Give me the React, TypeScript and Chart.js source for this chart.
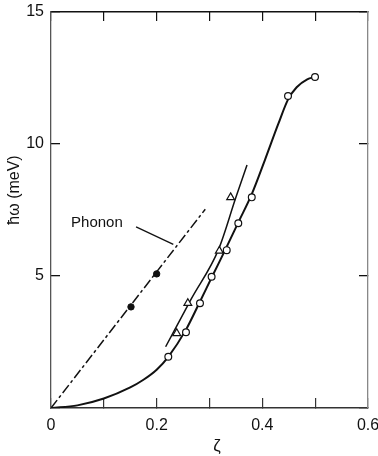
import React, { useEffect, useRef } from 'react';
import { Chart, registerables } from 'chart.js';

Chart.register(...registerables);

// Solid curve through open circles
const curveX = [0, 0.05, 0.1, 0.15, 0.175, 0.2, 0.222, 0.255, 0.28, 0.305, 0.33, 0.355, 0.38, 0.405, 0.43, 0.449, 0.465, 0.485, 0.4997];
const curveY = [0, 0.1, 0.36, 0.78, 1.07, 1.45, 1.94, 2.95, 3.95, 4.98, 6.0, 7.05, 8.1, 9.4, 10.75, 11.7, 12.15, 12.45, 12.54];

// Solid line through triangles
const triLineX = [0.217, 0.266, 0.317, 0.35, 0.371];
const triLineY = [2.32, 4.15, 6.0, 7.98, 9.2];

// Dash-dot phonon line
const phononX = [0, 0.292];
const phononY = [0, 7.53];

// Markers
const openX = [0.222, 0.2555, 0.282, 0.304, 0.3326, 0.3545, 0.38, 0.4486, 0.4997];
const openY = [1.94, 2.87, 3.97, 4.97, 5.98, 7.0, 7.98, 11.82, 12.54];
const triX = [0.238, 0.259, 0.3186, 0.34];
const triY = [2.83, 3.97, 5.95, 7.98];
const filledX = [0.1514, 0.2];
const filledY = [3.83, 5.08];

// Tick labels
const xLabelValues = [0, 0.2, 0.4, 0.6];
const xLabelTexts = ['0', '0.2', '0.4', '0.6'];
const yLabelValues = [5, 10, 15];
const yLabelTexts = ['5', '10', '15'];

// Annotation (data coordinates)
const phononText = 'Phonon';
const phononTextPos = [0.038, 6.87];
const leaderStart = [0.161, 6.86];
const leaderEnd = [0.2315, 6.2];

const xTitle = 'ζ';
const yTitle = 'ħω (meV)';

const FONT = '"Liberation Sans", Arial, sans-serif';
const INK = '#111';

const pts = (xs: number[], ys: number[]) => xs.map((x, i) => ({ x, y: ys[i] }));

const zeroPad = (s: any) => {
  s.paddingLeft = 0;
  s.paddingRight = 0;
  s.paddingTop = 0;
  s.paddingBottom = 0;
};

export default function App() {
  const ref = useRef<HTMLCanvasElement | null>(null);

  useEffect(() => {
    const canvas = ref.current;
    if (!canvas) return;

    const annotate = {
      id: 'annotate',
      afterDraw(chart: any) {
        const ctx = chart.ctx;
        const xs = chart.scales.x;
        const ys = chart.scales.y;
        ctx.save();
        ctx.fillStyle = INK;
        ctx.strokeStyle = INK;
        ctx.font = `15px ${FONT}`;
        ctx.textAlign = 'left';
        ctx.textBaseline = 'alphabetic';
        ctx.fillText(phononText, xs.getPixelForValue(phononTextPos[0]), ys.getPixelForValue(phononTextPos[1]));
        ctx.lineWidth = 1.3;
        ctx.beginPath();
        ctx.moveTo(xs.getPixelForValue(leaderStart[0]), ys.getPixelForValue(leaderStart[1]));
        ctx.lineTo(xs.getPixelForValue(leaderEnd[0]), ys.getPixelForValue(leaderEnd[1]));
        ctx.stroke();

        // x title
        ctx.font = `17px ${FONT}`;
        ctx.textAlign = 'center';
        ctx.textBaseline = 'middle';
        ctx.fillText(xTitle, 217, 446);

        // y title
        ctx.translate(15, 190);
        ctx.rotate(-Math.PI / 2);
        ctx.font = `16px ${FONT}`;
        ctx.fillText(yTitle, 0, 0);
        ctx.restore();
      },
    };

    const tickFont = { family: FONT, size: 16 };

    const chart = new Chart(canvas, {
      type: 'scatter',
      data: {
        datasets: [
          {
            label: 'filled',
            data: pts(filledX, filledY),
            showLine: false,
            pointStyle: 'circle',
            pointRadius: 3.2,
            pointBackgroundColor: INK,
            pointBorderColor: INK,
            pointBorderWidth: 1,
          },
          {
            label: 'triangles',
            data: pts(triX, triY),
            showLine: false,
            pointStyle: 'triangle',
            pointRadius: 4.5,
            pointBackgroundColor: '#fff',
            pointBorderColor: INK,
            pointBorderWidth: 1.2,
          },
          {
            label: 'open',
            data: pts(openX, openY),
            showLine: false,
            pointStyle: 'circle',
            pointRadius: 3.4,
            pointBackgroundColor: '#fff',
            pointBorderColor: INK,
            pointBorderWidth: 1.2,
          },
          {
            label: 'curve',
            data: pts(curveX, curveY),
            showLine: true,
            pointRadius: 0,
            borderColor: INK,
            borderWidth: 2,
            cubicInterpolationMode: 'monotone',
          },
          {
            label: 'triLine',
            data: pts(triLineX, triLineY),
            showLine: true,
            pointRadius: 0,
            borderColor: INK,
            borderWidth: 1.5,
            cubicInterpolationMode: 'monotone',
          },
          {
            label: 'phonon',
            data: pts(phononX, phononY),
            showLine: true,
            pointRadius: 0,
            borderColor: INK,
            borderWidth: 1.5,
            borderDash: [10, 3, 3, 3],
          },
        ] as any,
      },
      options: {
        responsive: false,
        animation: false,
        devicePixelRatio: 1,
        layout: { padding: { top: 12, right: 10, left: 0, bottom: 0 } },
        plugins: {
          legend: { display: false },
          tooltip: { enabled: false },
        },
        scales: {
          x: {
            type: 'linear',
            position: 'bottom',
            min: 0,
            max: 0.6,
            border: { display: true, color: '#333', width: 1.5 },
            grid: { drawOnChartArea: false, drawTicks: true, tickLength: -10, color: '#333', lineWidth: 1.2 },
            ticks: {
              stepSize: 0.1,
              autoSkip: false,
              maxRotation: 0,
              padding: 18,
              color: INK,
              font: tickFont,
              callback: (v: any) => {
                const i = xLabelValues.findIndex((t) => Math.abs(t - Number(v)) < 1e-6);
                return i >= 0 ? xLabelTexts[i] : '';
              },
            },
            afterFit: (s: any) => {
              s.height = 48;
              zeroPad(s);
            },
          },
          x2: {
            type: 'linear',
            position: 'top',
            min: 0,
            max: 0.6,
            border: { display: true, color: '#111', width: 1.5 },
            grid: { drawOnChartArea: false, drawTicks: true, tickLength: -9, color: '#111', lineWidth: 1.2 },
            ticks: { stepSize: 0.1, autoSkip: false, display: false },
            afterFit: (s: any) => {
              s.height = 0;
              zeroPad(s);
            },
          },
          y: {
            type: 'linear',
            position: 'left',
            min: 0,
            max: 15,
            border: { display: true, color: '#555', width: 1.3 },
            grid: { drawOnChartArea: false, drawTicks: true, tickLength: -9, color: '#111', lineWidth: 1.3 },
            ticks: {
              stepSize: 5,
              padding: 16,
              color: INK,
              font: tickFont,
              callback: (v: any) => {
                const i = yLabelValues.findIndex((t) => Math.abs(t - Number(v)) < 1e-6);
                return i >= 0 ? yLabelTexts[i] : '';
              },
            },
            afterFit: (s: any) => {
              s.width = 51;
              zeroPad(s);
            },
          },
          y2: {
            type: 'linear',
            position: 'right',
            min: 0,
            max: 15,
            border: { display: true, color: '#888', width: 1.3 },
            grid: { drawOnChartArea: false, drawTicks: true, tickLength: -9, color: '#111', lineWidth: 1.3 },
            ticks: { stepSize: 5, display: false },
            afterFit: (s: any) => {
              s.width = 0;
              zeroPad(s);
            },
          },
        },
      } as any,
      plugins: [annotate],
    });

    return () => chart.destroy();
  }, []);

  return (
    <div style={{ position: 'absolute', left: 0, top: 0, width: 378, height: 456, background: '#fff' }}>
      <canvas ref={ref} width={378} height={456} style={{ display: 'block' }} />
    </div>
  );
}
